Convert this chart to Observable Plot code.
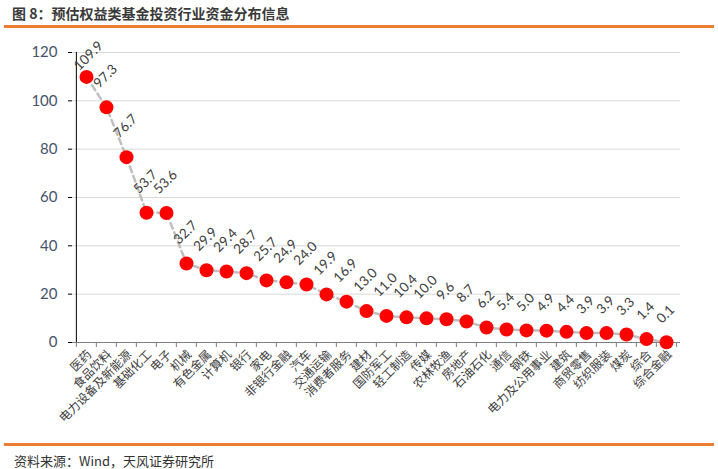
<!DOCTYPE html>
<html>
<head>
<meta charset="utf-8">
<script src="https://cdn.jsdelivr.net/npm/d3@7"></script>
<script src="https://cdn.jsdelivr.net/npm/@observablehq/plot@0.6"></script>
<style>
  html, body { margin: 0; padding: 0; background: #fff; }
  #page { position: relative; width: 718px; height: 469px; overflow: hidden; background: #fff; font-family: "Noto Sans CJK SC", sans-serif; }
  #title { position: absolute; left: 12px; top: 3px; font-size: 14px; font-weight: bold; color: #3a3a3a; white-space: nowrap; }
  .rule { position: absolute; left: 4px; width: 710px; height: 3px; background: #ED7D31; }
  #chart { position: absolute; left: 0; top: 30px; }
  #source { position: absolute; left: 14px; top: 451px; font-size: 13px; color: #333; white-space: nowrap; }
</style>
</head>
<body>
<div id="page">
  <div id="title">图 8：预估权益类基金投资行业资金分布信息</div>
  <div class="rule" style="top:25px"></div>
  <div id="chart"></div>
  <div class="rule" style="top:443px"></div>
  <div id="source">资料来源：Wind，天风证券研究所</div>
</div>
<script>
const industries = ["医药","食品饮料","电力设备及新能源","基础化工","电子","机械","有色金属","计算机","银行","家电","非银行金融","汽车","交通运输","消费者服务","建材","国防军工","轻工制造","传媒","农林牧渔","房地产","石油石化","通信","钢铁","电力及公用事业","建筑","商贸零售","纺织服装","煤炭","综合","综合金融"];
const values = [109.9,97.3,76.7,53.7,53.6,32.7,29.9,29.4,28.7,25.7,24.9,24.0,19.9,16.9,13.0,11.0,10.4,10.0,9.6,8.7,6.2,5.4,5.0,4.9,4.4,3.9,3.9,3.3,1.4,0.1];
const yTicks = [0,20,40,60,80,100,120];

const data = industries.map((name, i) => ({name, value: values[i], i}));

const W = 718, H = 412, ML = 72, MR = 38, MT = 22, MB = 100;
const step = (W - ML - MR) / industries.length;

const numFont = "Lato, 'Open Sans', sans-serif";

const chart = Plot.plot({
  width: W, height: H,
  marginLeft: ML, marginRight: MR, marginTop: MT, marginBottom: MB,
  style: {background: "transparent", overflow: "visible"},
  x: {type: "point", domain: industries, padding: 0.5, align: 0.5, label: null, axis: null},
  y: {domain: [0, 120], label: null, axis: null},
  marks: [
    Plot.gridY(yTicks.filter(d => d > 0), {stroke: "#d9d9d9", strokeOpacity: 1, strokeWidth: 1}),
    Plot.axisY(yTicks, {tickSize: 4, tickPadding: 11, stroke: "#000", fill: "#44546A", fontSize: 15, fontFamily: numFont, label: null}),
    Plot.ruleX([industries[0]], {x: d => d, y1: () => 0, y2: () => 120, dx: -step / 2, stroke: "#000", strokeWidth: 1}),
    Plot.ruleY([0], {stroke: "#7f7f7f", strokeWidth: 1.2}),
    Plot.axisX(industries, {tickSize: 5, tickFormat: () => "", dx: -step / 2, stroke: "#7f7f7f", label: null}),
    Plot.axisX([industries[industries.length - 1]], {tickSize: 5, tickFormat: () => "", dx: step / 2, stroke: "#7f7f7f", label: null}),
    Plot.text(industries, {x: d => d, y: () => 0, text: d => d, rotate: -45, textAnchor: "end", dx: 3, dy: 10, fontSize: 12, fill: "#404040", fontFamily: "'Noto Sans CJK SC', sans-serif"}),
    Plot.line(data, {x: "name", y: "value", stroke: "#bfbfbf", strokeWidth: 2.5, strokeDasharray: "6,4"}),
    Plot.dot(data, {x: "name", y: "value", r: 7, fill: "#ff0000", stroke: "none"}),
    Plot.text(data.filter(d => d.i === 0), {x: "name", y: "value", text: d => d.value.toFixed(1), rotate: -45, dy: -21, dx: 2, fontSize: 13.5, fill: "#404040", fontFamily: numFont}),
    Plot.text(data.filter(d => d.i > 0 && d.value >= 10), {x: "name", y: "value", text: d => d.value.toFixed(1), rotate: -45, dy: -31, dx: -1, fontSize: 13.5, fill: "#404040", fontFamily: numFont}),
    Plot.text(data.filter(d => d.value < 10), {x: "name", y: "value", text: d => d.value.toFixed(1), rotate: -45, dy: -28, dx: -1, fontSize: 13.5, fill: "#404040", fontFamily: numFont})
  ]
});
document.getElementById("chart").appendChild(chart);
</script>
</body>
</html>
